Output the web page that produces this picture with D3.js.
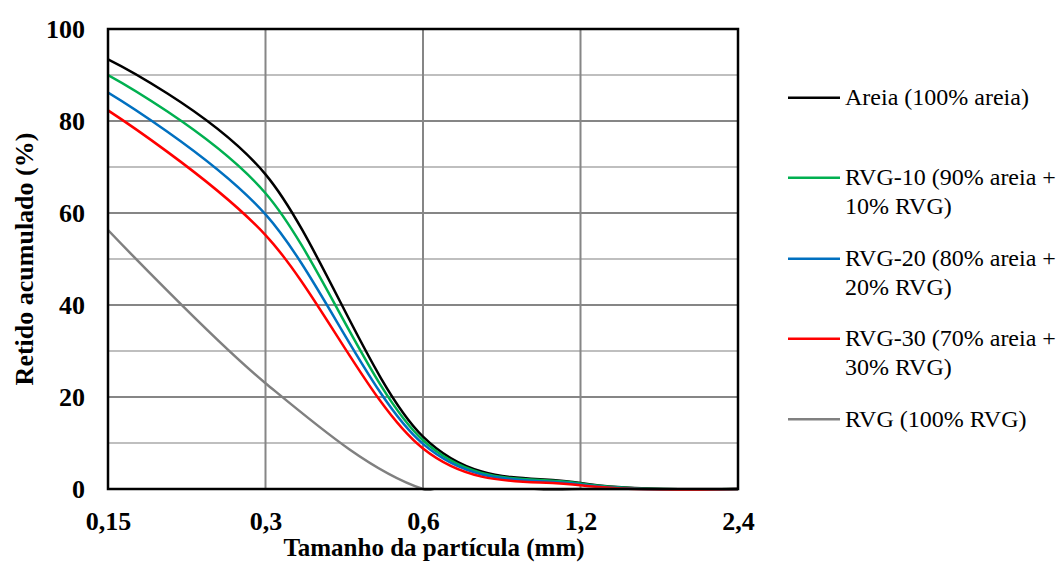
<!DOCTYPE html>
<html>
<head>
<meta charset="utf-8">
<script src="https://cdn.jsdelivr.net/npm/d3@7"></script>
<style>
  html, body { margin: 0; padding: 0; background: #fff; }
  svg { display: block; }
</style>
</head>
<body>
<svg id="chart" width="1061" height="572"></svg>
<script>
// Sieve sizes (mm) and cumulative retained percentage for each mix
const sieveSizes = [0.15, 0.3, 0.6, 1.2, 2.4];
const areia  = [93.4, 68.4, 11.4, 1.3, 0.0];
const rvg10  = [90.0, 64.3, 10.6, 1.2, 0.0];
const rvg20  = [86.2, 59.7,  9.8, 1.0, 0.0];
const rvg30  = [82.3, 55.2,  8.8, 0.8, 0.0];
const rvg100 = [56.3, 23.0,  0.0, 0.0, 0.0];

const seriesNames = [
  ["Areia (100% areia)"],
  ["RVG-10 (90% areia +", "10% RVG)"],
  ["RVG-20 (80% areia +", "20% RVG)"],
  ["RVG-30 (70% areia +", "30% RVG)"],
  ["RVG (100% RVG)"]
];
const seriesColors = ["#000000", "#00b050", "#0070c0", "#ff0000", "#808080"];
const seriesValues = [areia, rvg10, rvg20, rvg30, rvg100];

const yTicks = [0, 20, 40, 60, 80, 100];
const yMinorGrid = [10, 30, 50, 70, 90];
const xTickLabels = ["0,15", "0,3", "0,6", "1,2", "2,4"];

(function draw() {
  const svg = d3.select("#chart");
  const plotL = 108, plotR = 738, plotT = 29, plotB = 489;

  const x = d3.scaleLog().base(2).domain([0.15, 2.4]).range([plotL, plotR]);
  const y = d3.scaleLinear().domain([0, 100]).range([plotB, plotT]);

  const serif = "Liberation Serif";

  // Gridlines
  const grid = svg.append("g");
  grid.selectAll(".minor").data(yMinorGrid).enter().append("line")
    .attr("x1", plotL).attr("x2", plotR)
    .attr("y1", d => y(d)).attr("y2", d => y(d))
    .attr("stroke", "#bfbfbf").attr("stroke-width", 2);
  grid.selectAll(".major").data(yTicks.slice(1, -1)).enter().append("line")
    .attr("x1", plotL).attr("x2", plotR)
    .attr("y1", d => y(d)).attr("y2", d => y(d))
    .attr("stroke", "#868686").attr("stroke-width", 2);
  grid.selectAll(".vert").data(sieveSizes.slice(1, -1)).enter().append("line")
    .attr("x1", d => x(d)).attr("x2", d => x(d))
    .attr("y1", plotT).attr("y2", plotB)
    .attr("stroke", "#868686").attr("stroke-width", 2);

  // Clip the smoothed curves to the plot area
  svg.append("defs").append("clipPath").attr("id", "plotClip")
    .append("rect").attr("x", plotL).attr("y", plotT)
    .attr("width", plotR - plotL).attr("height", plotB - plotT + 2);

  const line = d3.line()
    .x((d, i) => x(sieveSizes[i]))
    .y(d => y(d))
    .curve(d3.curveCardinal.tension(0));

  svg.append("g").attr("clip-path", "url(#plotClip)")
    .selectAll("path").data(seriesValues).enter().append("path")
    .attr("d", d => line(d))
    .attr("fill", "none")
    .attr("stroke", (d, i) => seriesColors[i])
    .attr("stroke-width", 2.5)
    .attr("stroke-linejoin", "round");

  // Plot frame
  svg.append("rect")
    .attr("x", plotL).attr("y", plotT)
    .attr("width", plotR - plotL).attr("height", plotB - plotT)
    .attr("fill", "none").attr("stroke", "#000").attr("stroke-width", 2.5);

  // Axes
  const xAxis = svg.append("g")
    .attr("transform", `translate(0,${plotB})`)
    .call(d3.axisBottom(x).tickValues(sieveSizes)
      .tickFormat((d, i) => xTickLabels[i]).tickSize(0));
  xAxis.select(".domain").remove();
  xAxis.selectAll("text")
    .attr("y", 41).attr("dy", null)
    .style("font-family", serif).style("font-size", "26px").style("font-weight", "bold")
    .attr("fill", "#000");

  const yAxis = svg.append("g")
    .attr("transform", `translate(${plotL},0)`)
    .call(d3.axisLeft(y).tickValues(yTicks).tickSize(0).tickPadding(23));
  yAxis.select(".domain").remove();
  yAxis.selectAll("text")
    .style("font-family", serif).style("font-size", "26px").style("font-weight", "bold")
    .attr("fill", "#000");

  // Axis titles
  svg.append("text")
    .attr("x", 434).attr("y", 556)
    .attr("text-anchor", "middle")
    .style("font-family", serif).style("font-size", "25px").style("font-weight", "bold")
    .text("Tamanho da partícula (mm)");

  svg.append("text")
    .attr("transform", "translate(33,259) rotate(-90)")
    .attr("text-anchor", "middle")
    .style("font-family", serif).style("font-size", "26px").style("font-weight", "bold")
    .text("Retido acumulado (%)");

  // Legend
  const legend = svg.append("g");
  const legendY = [97.7, 177.7, 258.7, 338.7, 419.3];
  seriesNames.forEach((lines, i) => {
    const g = legend.append("g").attr("transform", `translate(0,${legendY[i]})`);
    g.append("line").attr("x1", 788).attr("x2", 840).attr("y1", 0).attr("y2", 0)
      .attr("stroke", seriesColors[i]).attr("stroke-width", 2.5);
    const t = g.append("text")
      .style("font-family", serif).style("font-size", "24px").attr("fill", "#000");
    lines.forEach((s, j) => {
      t.append("tspan").attr("x", 845).attr("y", 7.5 + j * 29).text(s);
    });
  });
})();
</script>
</body>
</html>
